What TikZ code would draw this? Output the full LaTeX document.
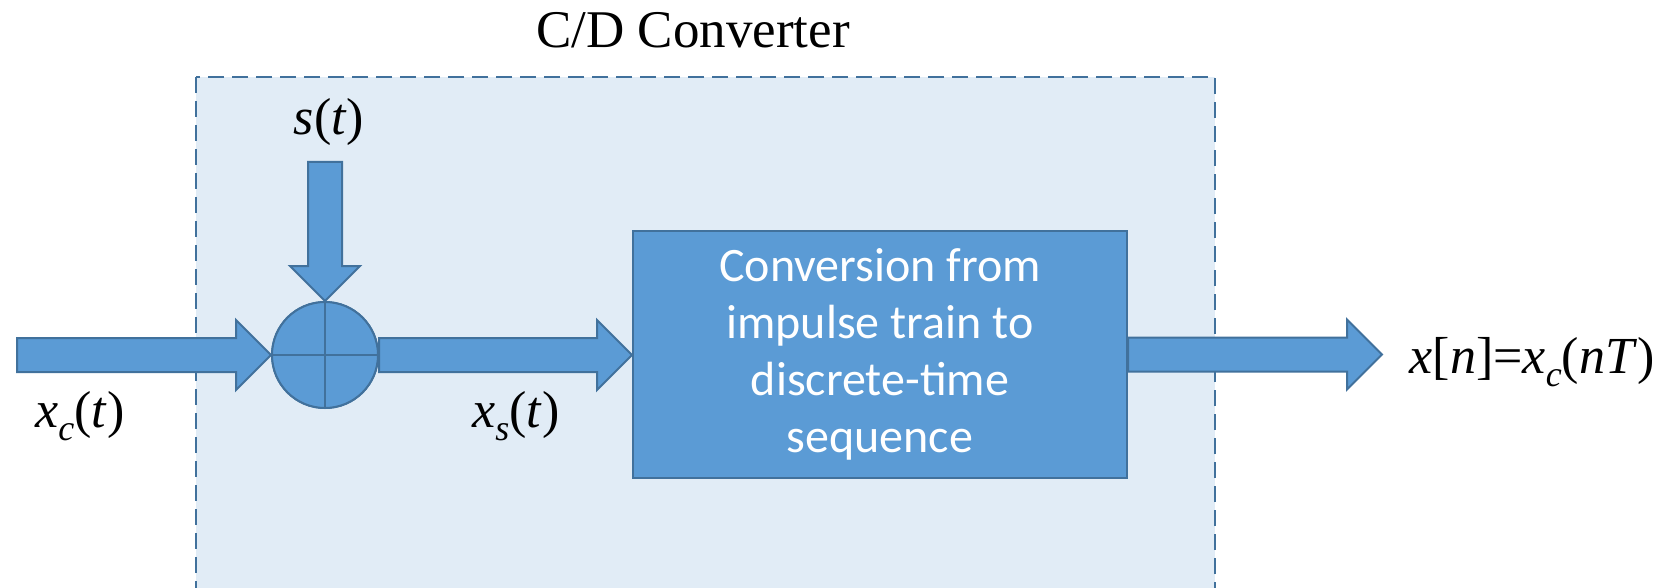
\documentclass[tikz,border=0pt]{standalone}
\usepackage{fontspec}
\setmainfont{Liberation Serif}
\newfontfamily\calfont{Carlito}
\usetikzlibrary{calc}
\definecolor{fillblue}{RGB}{91,155,213}
\definecolor{edgeblue}{RGB}{65,113,156}
\definecolor{bglight}{RGB}{225,236,246}
\newcommand{\sbs}[1]{\raisebox{-0.25em}{\fontsize{36}{40}\selectfont\itshape #1}}
\newcommand{\harrow}[2]{%
  \path[blockarrow] let \p1=(#1), \p2=(#2) in
  (\x1,\y1+17pt) -- (\x2-35pt,\y1+17pt) -- (\x2-35pt,\y1+35pt) -- (\x2,\y1)
  -- (\x2-35pt,\y1-35pt) -- (\x2-35pt,\y1-17pt) -- (\x1,\y1-17pt) -- cycle;}
\newcommand{\varrow}[2]{%
  \path[blockarrow] let \p1=(#1), \p2=(#2) in
  (\x1-17pt,\y1) -- (\x1-17pt,\y2+35pt) -- (\x1-35pt,\y2+35pt) -- (\x1,\y2)
  -- (\x1+35pt,\y2+35pt) -- (\x1+17pt,\y2+35pt) -- (\x1+17pt,\y1) -- cycle;}
\tikzset{
  blockarrow/.style={fill=fillblue, draw=edgeblue, line width=2pt},
  region/.style={fill=bglight, draw=edgeblue, line width=2pt, dash pattern=on 16pt off 8pt},
  lbl/.style={font=\fontsize{52}{60}\selectfont, inner sep=0pt},
  sumnode/.style={circle, fill=fillblue, draw=edgeblue, line width=2pt, minimum size=106pt, inner sep=0pt},
  convbox/.style={rectangle, fill=fillblue, draw=edgeblue, line width=2pt, minimum width=494pt, minimum height=247pt, inner sep=0pt,
    text=white, align=center, font=\calfont\fontsize{48}{57}\selectfont}
}
\begin{document}
\begin{tikzpicture}[x=1pt,y=-1pt]
\clip (0,0) rectangle (1668,588);
\fill[white] (0,0) rectangle (1668,588);
% C/D converter region
\path[region] (196,77) rectangle (1215,620);
\node[lbl, font=\fontsize{53}{60}\selectfont, anchor=base] (title) at (693,48) {C/D Converter};
% nodes
\node[sumnode] (sum) at (325,355) {};
\node[convbox] (conv) at (880,354.5) {Conversion from\\impulse train to\\discrete-time\\sequence};
\coordinate (in) at (17,355);
\coordinate (out) at (1382,355);
\coordinate (stop) at (325,162);
% block arrows
\harrow{in}{sum.west}
\harrow{sum.east}{conv.west}
\harrow{conv.east}{out}
\varrow{stop}{sum.north}
% redraw junction on top
\node[sumnode] at (sum) {};
\draw[edgeblue, line width=2pt] (sum.north) -- (sum.south) (sum.west) -- (sum.east);
% labels
\node[lbl, anchor=base] (st) at (329,135) {\textit{s}(\textit{t})};
\node[lbl, anchor=base] (xct) at (80,427) {\textit{x}\sbs{c}(\textit{t})};
\node[lbl, anchor=base] (xst) at (516,427) {\textit{x}\sbs{s}(\textit{t})};
\node[lbl, anchor=base] (xn) at (1532,373) {\textit{x}[\textit{n}]=\textit{x}\sbs{c}(\textit{nT})};
\end{tikzpicture}
\end{document}
